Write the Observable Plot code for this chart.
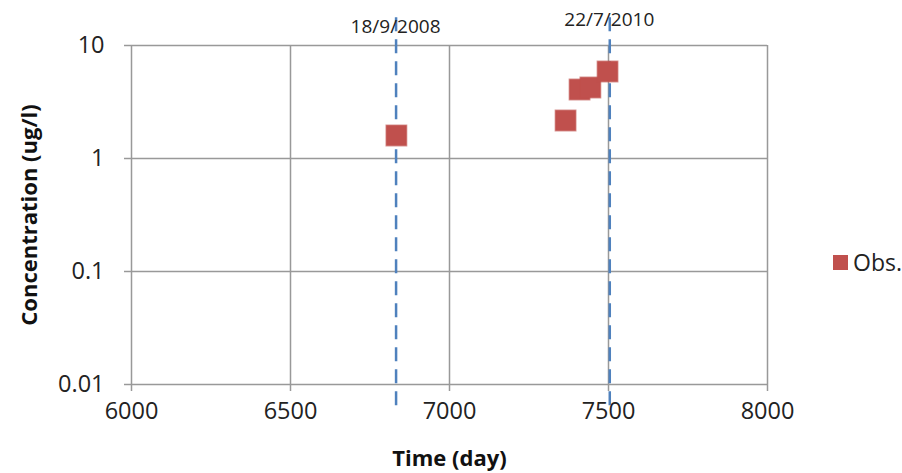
<!DOCTYPE html>
<html>
<head>
<meta charset="utf-8">
<script src="https://cdn.jsdelivr.net/npm/d3@7"></script>
<script src="https://cdn.jsdelivr.net/npm/@observablehq/plot@0.6"></script>
<style>
  html, body { margin: 0; padding: 0; background: #fff; }
  #wrap { position: relative; width: 902px; height: 473px; font-family: "Open Sans", Lato, sans-serif; }
  #legend { position: absolute; left: 833px; top: 245px; height: 34px; display: flex; align-items: center; font-size: 23px; color: #222; white-space: nowrap; }
  #legend span.sw { display: inline-block; width: 15px; height: 15px; background: #C0504D; margin-right: 5px; }
  g[aria-label$="tick label"] { font-size: 23.5px !important; }
  g[aria-label$="tick label"] text { font-size: 23.5px !important; }
</style>
</head>
<body>
<div id="wrap"><div id="legend"><span class="sw"></span>Obs.</div></div>
<script>
const obsDay = [6833, 7365, 7409, 7443, 7497];
const obsConc = [1.6, 2.17, 4.08, 4.25, 5.89];
const eventDay = [6832, 7504];
const eventLabel = ["18/9/2008", "22/7/2010"];
const xTicks = [6000, 6500, 7000, 7500, 8000];
const yTicks = [0.01, 0.1, 1, 10];

const obs = obsDay.map((d, i) => ({day: d, conc: obsConc[i]}));
const events = eventDay.map((d, i) => ({day: d, label: eventLabel[i]}));

const chart = Plot.plot({
  width: 902,
  height: 473,
  marginLeft: 131,
  marginRight: 135,
  marginTop: 45,
  marginBottom: 89,
  style: {fontFamily: "'Open Sans', Lato, sans-serif", fontSize: "18px", color: "#333", background: "#fff", overflow: "visible"},
  x: {domain: [6000, 8000]},
  y: {type: "log", domain: [0.01, 10]},
  marks: [
    Plot.gridX(xTicks, {stroke: "#999", strokeOpacity: 1, strokeWidth: 1.5}),
    Plot.gridY(yTicks, {stroke: "#999", strokeOpacity: 1, strokeWidth: 1.5}),
    Plot.axisX(xTicks, {tickSize: 7, stroke: "#999", strokeWidth: 1.5, tickPadding: 11, fontSize: 23, fill: "#222",
      label: null, tickFormat: d => String(d)}),
    Plot.axisY(yTicks, {tickSize: 7, stroke: "#999", strokeWidth: 1.5, tickPadding: 20, fontSize: 23, fill: "#222",
      label: null, tickFormat: d => String(d)}),
    Plot.ruleX(events, {x: "day", y1: 0.0065, y2: 18, stroke: "#4F81BD", strokeWidth: 2.5, strokeDasharray: "14,8", clip: false}),
    Plot.dot(obs, {x: "day", y: "conc", symbol: "square", r: 11.5, fill: "#C0504D", stroke: "#C0504D", strokeOpacity: 0.6, fillOpacity: 1}),
    Plot.text(events, {x: "day", y: [14.4, 16.6], text: "label", dx: [4, 0], fontSize: 19, fill: "#222", clip: false}),
    Plot.text(["Concentration (ug/l)"], {frameAnchor: "left", textAnchor: "middle", dx: -102, rotate: -90, fontWeight: "bold", fontSize: 22, fill: "#111"}),
    Plot.text(["Time (day)"], {frameAnchor: "bottom", dy: 81, fontWeight: "bold", fontSize: 22, fill: "#111"})
  ]
});
document.getElementById("wrap").prepend(chart);
</script>
</body>
</html>
